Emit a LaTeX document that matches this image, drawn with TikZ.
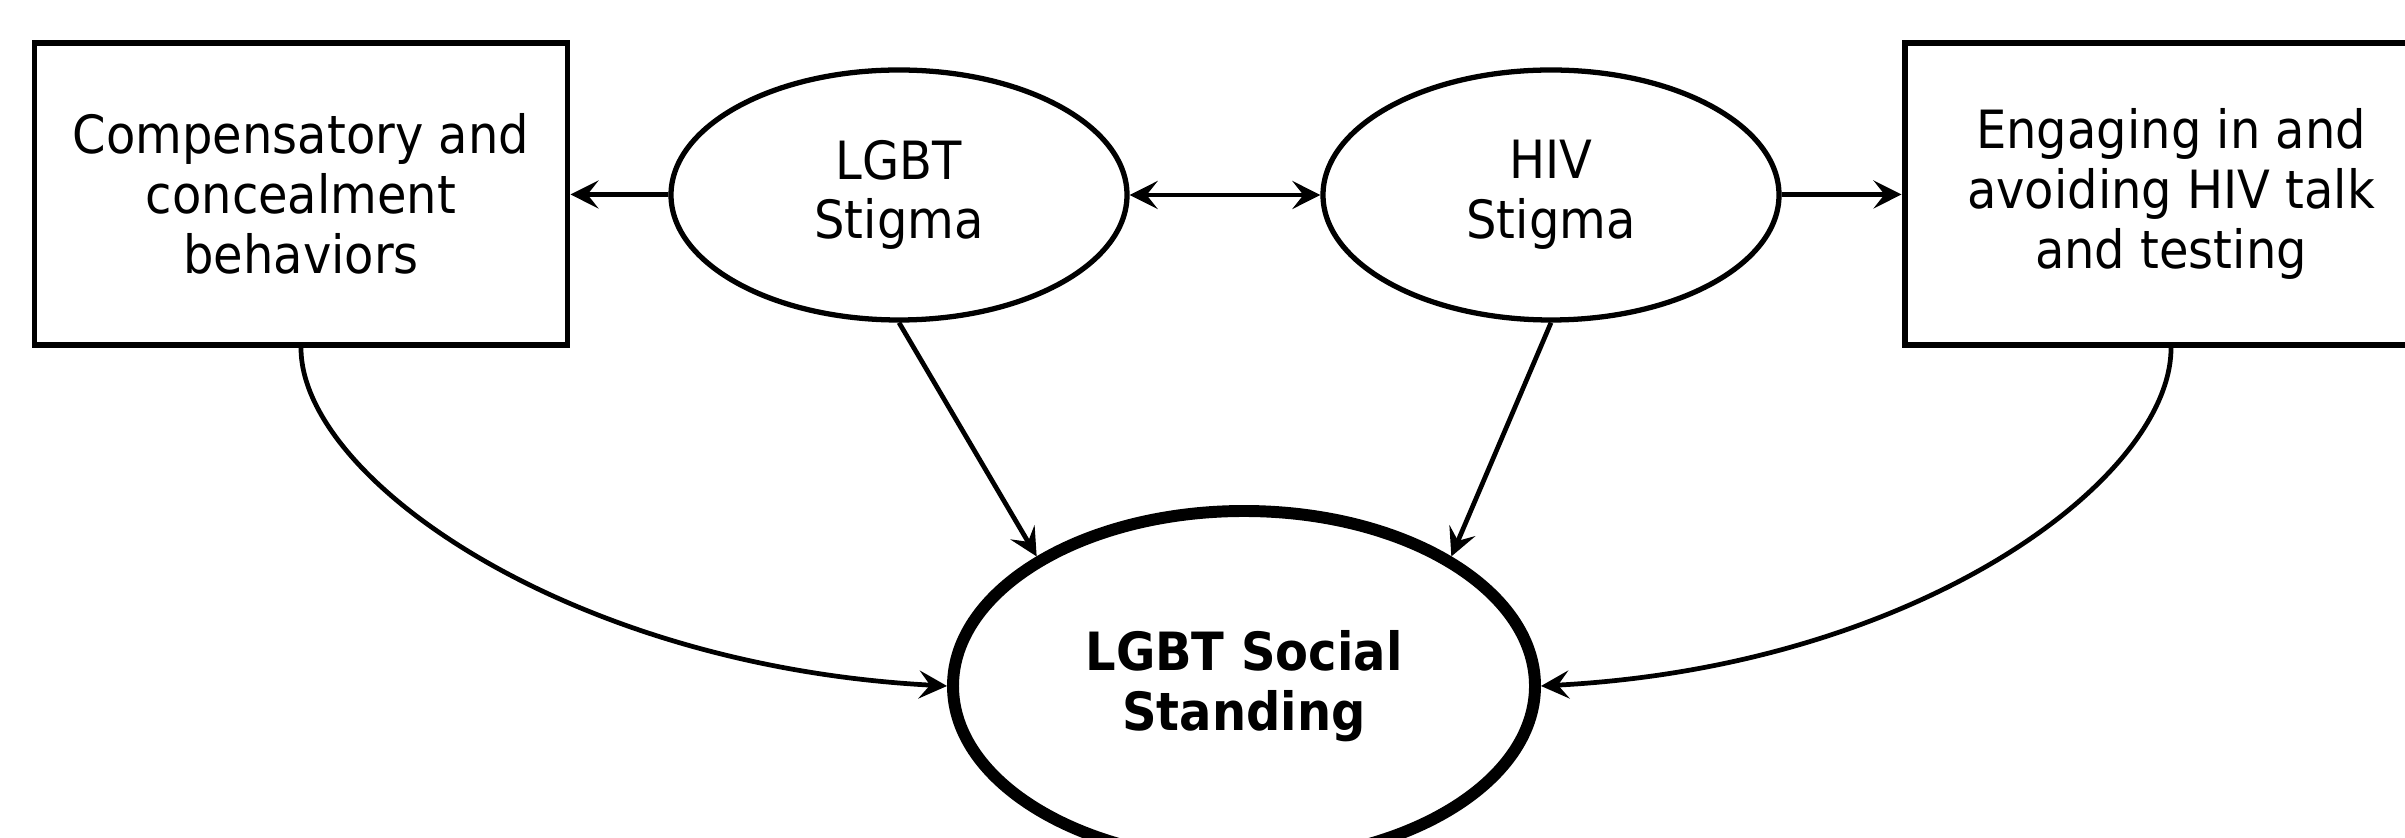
\documentclass[tikz,border=0pt]{standalone}
\usepackage{fontspec}
\setmainfont{DejaVu Sans}[FakeStretch=0.91]
\usepackage{tikz}
\usetikzlibrary{shapes.geometric, arrows.meta}

\begin{document}
\begin{tikzpicture}[
						every node/.style={font=\fontsize{15}{17}\selectfont, align=center},
						factor/.style={draw, rectangle, line width=1.7pt, minimum width=5.33cm, minimum height=3.02cm, inner sep=0pt},
						stigma/.style={draw, ellipse, line width=1.5pt, minimum width=4.56cm, minimum height=2.5cm, inner sep=0pt},
						outcome/.style={draw, ellipse, line width=3.4pt, minimum width=5.82cm, minimum height=3.5cm, inner sep=0pt},
						>={Stealth[length=2.8mm, width=2.8mm, inset=1.1mm]},
						link/.style={line width=1.35pt, ->}
				]
    \useasboundingbox (0,0) rectangle (24.05,8.37);

    \node[factor] (Compensatory) at (3.01,6.43) {Compensatory and\\concealment\\behaviors};
    \node[stigma] (LGBTStigma) at (8.99,6.42) {LGBT\\Stigma};
    \node[stigma] (HIVStigma) at (15.51,6.42) {HIV\\Stigma};
    \node[factor] (Engaging) at (21.71,6.43) {Engaging in and\\avoiding HIV talk\\and testing};
    \node[outcome] (SocialStanding) at (12.44,1.51) {\bfseries LGBT Social\\\bfseries Standing};

    % Add arrows between stigmas and behaviors
    \draw[link] (LGBTStigma) -- (Compensatory);
    \draw[link, <->] (LGBTStigma) -- (HIVStigma);
    \draw[link] (HIVStigma) -- (Engaging);

    % Arrows into social standing
    \draw[link] (LGBTStigma.south) -- (SocialStanding.148);
    \draw[link] (HIVStigma.south) -- (SocialStanding.32);
    \draw[link] (Compensatory.south) to[out=-90, in=177, out distance=1.3cm, in distance=3.8cm] (SocialStanding.west);
    \draw[link] (Engaging.south) to[out=-90, in=3, out distance=1.3cm, in distance=3.8cm] (SocialStanding.east);

  \end{tikzpicture}
\end{document}
